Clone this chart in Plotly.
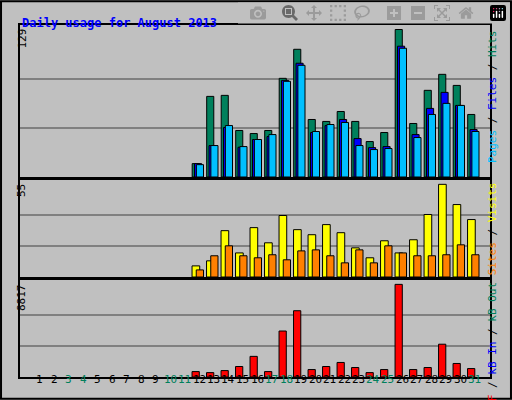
import plotly.graph_objects as go

days = list(range(1, 32))
weekend = [3, 4, 10, 11, 17, 18, 24, 25, 31]
pad = [None] * 11

hits = pad + [11.7, 70.5, 71.4, 40.7, 38, 40.7, 86.3, 111.7, 50.3, 48.6, 57.3, 48.6, 31, 38.9, 129, 46.8, 75.8, 89.8, 80.1, 54.7]
files = pad + [11.7, 27.5, 43.3, 26, 32.8, 35.4, 84.5, 99.5, 38.9, 45, 50.3, 33.6, 25.7, 26.6, 114.4, 37.1, 60, 74, 62.6, 41.5]
pages = pad + [10.8, 27.5, 45, 26.6, 32.8, 37.1, 83.7, 97.7, 39.8, 45.9, 47.7, 27.5, 24, 24.9, 112.6, 34.5, 54.7, 64.4, 62.6, 39.8]
visits = pad + [6.6, 9.6, 27.5, 14.3, 29.3, 20.3, 36.5, 28.1, 25.1, 31.1, 26.3, 17.3, 11.4, 21.5, 14.3, 22.1, 37.1, 55, 43, 34.1]
sites = pad + [4.2, 12.6, 18.5, 12.6, 11.4, 13.2, 10.2, 15.5, 16.1, 12.6, 8.4, 16.1, 8.4, 18.5, 14.3, 12.6, 12.6, 13.2, 19.1, 13.2]
kbytes = pad + [515, 418, 611, 998, 1963, 515, 4376, 6307, 708, 998, 1384, 901, 418, 708, 8817, 708, 901, 3121, 1287, 804]

max_hits, max_visits, max_kb = 129, 55, 8817
mono = "DejaVu Sans Mono"

fig = go.Figure()

def bars(y, color, offset, width, ax):
    fig.add_trace(go.Bar(x=days, y=y, marker_color=color, offset=offset, width=width,
                         marker_line_color="black", marker_line_width=1,
                         xaxis="x" + ax, yaxis="y" + ax, showlegend=False))

bars(hits, "#00805C", -0.5, 0.49, "")
bars(files, "#0000FF", -0.34, 0.49, "")
bars(pages, "#00C0FF", -0.21, 0.49, "")
bars(visits, "#FFFF00", -0.51, 0.53, "2")
bars(sites, "#FF8000", -0.22, 0.5, "2")
bars(kbytes, "#FF0000", -0.51, 0.5, "3")

xdom = [20 / 512, 490 / 512]
xrange = [0.5 - 13 / 14.87, 31.5 + 8 / 14.87]
xcommon = dict(domain=xdom, range=xrange, showticklabels=False, showgrid=False, zeroline=False,
               showline=True, linecolor="black", mirror=True, linewidth=2)

def yax(top, bottom, vmax, hi_px, base_px):
    rng = vmax * (base_px - top) / (base_px - hi_px)
    return dict(domain=[1 - bottom / 400, 1 - top / 400], range=[0, rng],
                tickvals=[vmax / 3, 2 * vmax / 3], showticklabels=False, ticks="",
                gridcolor="#808080", gridwidth=1.5, zeroline=False,
                showline=True, linecolor="black", mirror=True, linewidth=2)

fig.update_layout(
    width=512, height=400, margin=dict(l=0, r=0, t=0, b=0),
    paper_bgcolor="#C0C0C0", plot_bgcolor="#C0C0C0", barmode="overlay",
    xaxis=dict(anchor="y", **xcommon),
    xaxis2=dict(anchor="y2", **xcommon),
    xaxis3=dict(anchor="y3", **xcommon),
    yaxis=yax(25, 177, max_hits, 29.5, 176.7),
    yaxis2=yax(180, 277, max_visits, 184.3, 276.3),
    yaxis3=yax(280, 377, max_kb, 284.3, 375.7),
    font=dict(family=mono, size=11, color="black"),
)

# day labels along the bottom
for d in days:
    fig.add_annotation(x=d, y=1 - 388 / 400, xref="x3", yref="paper", text=str(d),
                       showarrow=False, font=dict(family=mono, size=11,
                                                  color="#00805C" if d in weekend else "black"))

fig.add_annotation(x=20 / 512, y=1 - 14 / 400, xref="paper", yref="paper", xanchor="left",
                   text="<b>Daily usage for August 2013</b>", showarrow=False,
                   font=dict(family=mono, size=12, color="#0000FF"))

for lbl, top in [("129", 27), ("55", 182), ("8817", 282)]:
    fig.add_annotation(x=13 / 512, y=1 - top / 400, xref="paper", yref="paper", yanchor="top",
                       text=lbl, textangle=-90, showarrow=False, font=dict(family=mono, size=11))

def span(t, c):
    return f"<span style='color:{c}'>{t}</span>"

fig.add_annotation(x=501 / 512, y=1 - 28 / 400, xref="paper", yref="paper", yanchor="top",
                   text=span("Pages", "#00C0FF") + " / " + span("Files", "#0000FF") + " / " + span("Hits", "#00805C"),
                   textangle=-90, showarrow=False, font=dict(family=mono, size=11))
fig.add_annotation(x=501 / 512, y=1 - 180 / 400, xref="paper", yref="paper", yanchor="top",
                   text=span("kB F", "#FF0000") + " / " + span("kB In", "#0000FF") + " / "
                   + span("kB Out", "#00805C") + " " + span("Sites", "#FF8000") + " / " + span("Visits", "#FFFF00"),
                   textangle=-90, showarrow=False, font=dict(family=mono, size=11))

# outer frame
fig.add_shape(type="rect", xref="paper", yref="paper", x0=0.002, y0=0.003, x1=0.998, y1=0.997,
              line=dict(color="black", width=2))

fig.write_html("out.html", post_script="document.body.style.margin='0';document.body.style.overflow='hidden';")
